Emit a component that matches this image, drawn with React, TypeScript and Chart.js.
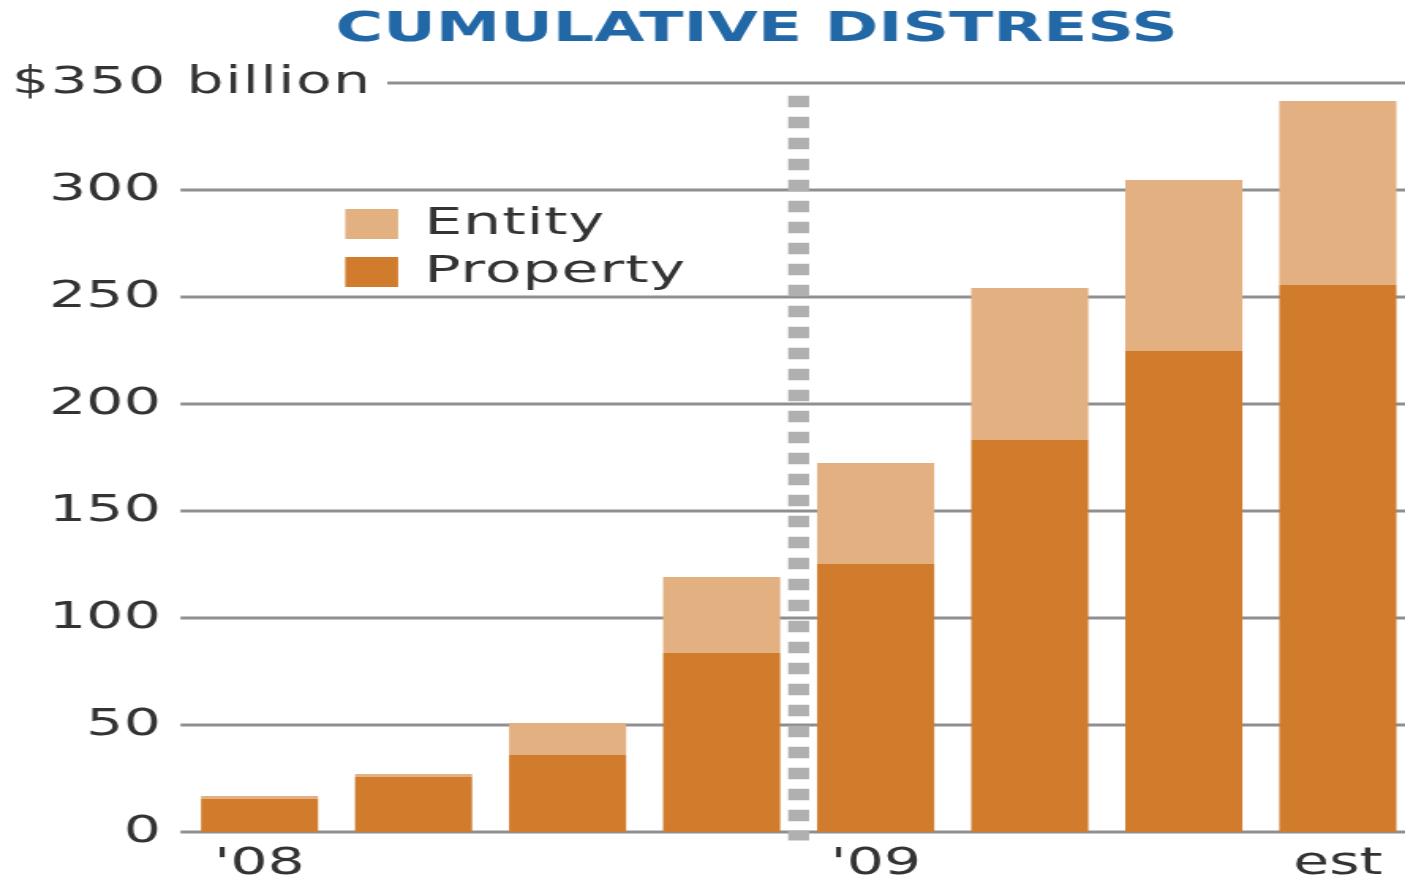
import React, { useEffect, useRef } from 'react';
import { Chart, registerables } from 'chart.js';

Chart.register(...registerables);

// ---- data ----
const CATEGORIES = ['Q1 08', 'Q2 08', 'Q3 08', 'Q4 08', 'Q1 09', 'Q2 09', 'Q3 09', 'Q4 09 est'];
const X_TICK_LABELS = ["'08", '', '', '', "'09", '', '', 'est'];
const PROPERTY = [15.4, 25.7, 36, 83.6, 125.2, 183.2, 224.8, 255.6];
const ENTITY = [1.4, 1.4, 14.9, 35.6, 47.2, 71, 79.9, 86];
const Y_TICKS_MAX = 350;
const Y_STEP = 50;
const TOP_LABEL = '$350 billion';
const TITLE = 'CUMULATIVE DISTRESS';
// divider between '08 Q4 and '09 Q1 (category index 3.5), spanning these values
const DIVIDER_AT = 3.5;
const DIVIDER_FROM = -4;
const DIVIDER_TO = 344;

// ---- look ----
const SX = 1.58; // horizontal stretch of the whole picture
const DISPLAY_W = 1405;
const DISPLAY_H = 883;
const CW = Math.round(DISPLAY_W / SX);
const FONT = 'DejaVu Sans';
const TEXT = '#333333';
const GRID = '#8f8f93';
const C_PROPERTY = '#d17b2c';
const C_ENTITY = '#e2b081';
const C_TITLE = '#2268a6';
const PLOT_LEFT = 164.2;
const PLOT_RIGHT = 846.5;
const X_AXIS_H = 51;

const overlay = {
  id: 'overlay',
  beforeDatasetsDraw(chart: any) {
    const { ctx, chartArea, scales } = chart;
    const y = scales.y;
    ctx.save();
    // title
    ctx.fillStyle = C_TITLE;
    ctx.font = `bold 41px "${FONT}"`;
    ctx.textAlign = 'center';
    ctx.textBaseline = 'middle';
    ctx.fillText(TITLE, 478.8, 30);
    // grid
    ctx.strokeStyle = GRID;
    ctx.lineWidth = 3;
    ctx.font = `37px "${FONT}"`;
    (ctx as any).letterSpacing = '0.9px';
    const topStart = 7.6 + ctx.measureText(TOP_LABEL).width + 10;
    for (let v = 0; v <= Y_TICKS_MAX; v += Y_STEP) {
      const py = y.getPixelForValue(v);
      const x0 = v === Y_TICKS_MAX ? topStart : chartArea.left - 50;
      ctx.beginPath();
      ctx.moveTo(x0, py);
      ctx.lineTo(chart.width, py);
      ctx.stroke();
    }
    // top label
    ctx.fillStyle = TEXT;
    ctx.textAlign = 'left';
    ctx.textBaseline = 'middle';
    ctx.fillText(TOP_LABEL, 7.6, y.getPixelForValue(Y_TICKS_MAX));
    (ctx as any).letterSpacing = '0px';
    ctx.restore();
  },
  afterDatasetsDraw(chart: any) {
    const { ctx, chartArea, scales } = chart;
    const x = scales.x;
    const y = scales.y;
    ctx.save();
    // dotted divider
    const dx = x.getPixelForValue(DIVIDER_AT);
    ctx.strokeStyle = '#b0b0b0';
    ctx.lineWidth = 13.3;
    ctx.setLineDash([11.5, 9.5]);
    ctx.beginPath();
    ctx.moveTo(dx, y.getPixelForValue(DIVIDER_TO));
    ctx.lineTo(dx, y.getPixelForValue(DIVIDER_FROM));
    ctx.stroke();
    ctx.setLineDash([]);
    // legend (top entry = last dataset)
    const ds = chart.data.datasets.slice().reverse();
    const lx = chartArea.left + 54.2;
    const rows = [chartArea.top + 141, chartArea.top + 189];
    ctx.font = `38px "${FONT}"`;
    (ctx as any).letterSpacing = '0.6px';
    ctx.textAlign = 'left';
    ctx.textBaseline = 'middle';
    ds.forEach((d: any, i: number) => {
      const cy = rows[i];
      ctx.fillStyle = d.backgroundColor;
      ctx.fillRect(lx, cy - 15, 33.5, 30);
      ctx.fillStyle = TEXT;
      ctx.fillText(d.label, lx + 50, cy);
    });
    (ctx as any).letterSpacing = '0px';
    ctx.restore();
  },
};

export default function App() {
  const ref = useRef<HTMLCanvasElement>(null);
  useEffect(() => {
    document.body.style.margin = '0';
    const chart = new Chart(ref.current as HTMLCanvasElement, {
      type: 'bar',
      data: {
        labels: CATEGORIES,
        datasets: [
          { label: 'Property', data: PROPERTY, backgroundColor: C_PROPERTY, clip: false as any },
          { label: 'Entity', data: ENTITY, backgroundColor: C_ENTITY, clip: false as any },
        ],
      },
      options: {
        responsive: false,
        animation: false,
        devicePixelRatio: 1,
        events: [],
        categoryPercentage: 0.76,
        barPercentage: 1,
        layout: { padding: { left: 0, right: CW - PLOT_RIGHT, top: 83, bottom: 0 } },
        font: { family: FONT },
        plugins: {
          legend: { display: false },
          tooltip: { enabled: false },
          title: { display: false },
        },
        scales: {
          x: {
            stacked: true,
            offset: false,
            grid: { display: false, drawTicks: false },
            border: { display: false },
            ticks: {
              autoSkip: false,
              maxRotation: 0,
              padding: 14,
              color: TEXT,
              font: { family: FONT, size: 37, lineHeight: 1 },
              callback: (_v: any, i: number) => X_TICK_LABELS[i],
            },
            afterFit: (s: any) => {
              s.height = X_AXIS_H;
              s.paddingLeft = 0;
              s.paddingRight = 0;
            },
          },
          y: {
            stacked: true,
            min: 0,
            max: Y_TICKS_MAX,
            grid: { display: false, drawTicks: false },
            border: { display: false },
            ticks: {
              stepSize: Y_STEP,
              padding: 62.5,
              color: TEXT,
              font: { family: FONT, size: 37 },
              callback: (v: any) => (v === Y_TICKS_MAX ? '' : String(v)),
            },
            afterFit: (s: any) => {
              s.width = PLOT_LEFT;
              s.paddingTop = 0;
              s.paddingBottom = 0;
            },
          },
        },
      } as any,
      plugins: [overlay],
    });
    return () => chart.destroy();
  }, []);
  return (
    <canvas
      ref={ref}
      width={CW}
      height={DISPLAY_H}
      style={{ width: `${DISPLAY_W}px`, height: `${DISPLAY_H}px`, display: 'block' }}
    />
  );
}
